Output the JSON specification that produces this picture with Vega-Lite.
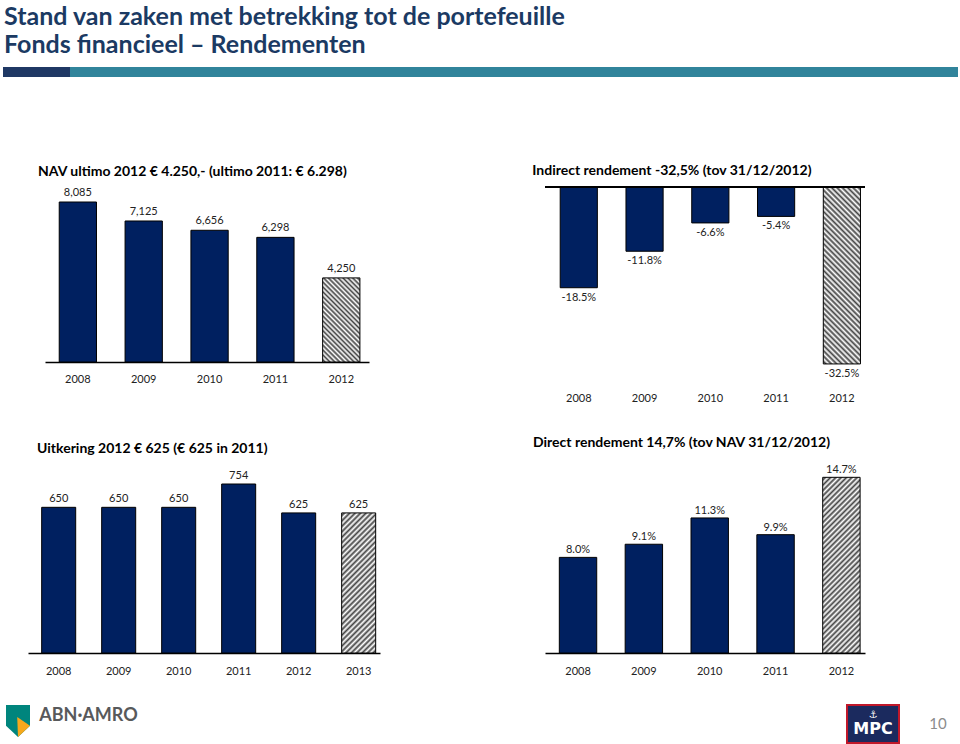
{
"$schema": "https://vega.github.io/schema/vega-lite/v6.json",
"background": "white",
"padding": {"left": 3, "top": 5, "right": 0, "bottom": 0},
"title": {"text": ["Stand van zaken met betrekking tot de portefeuille", "Fonds financieel – Rendementen"], "font": "Lato", "fontSize": 25, "fontWeight": "bold", "color": "#1b3a63", "lineHeight": 27.5, "offset": 9.5, "dx": 1, "anchor": "start"},
"datasets": {
  "leeg": [],
  "nav": [{"jaar": "2008", "waarde": 8085, "soort": "realisatie"}, {"jaar": "2009", "waarde": 7125, "soort": "realisatie"}, {"jaar": "2010", "waarde": 6656, "soort": "realisatie"}, {"jaar": "2011", "waarde": 6298, "soort": "realisatie"}, {"jaar": "2012", "waarde": 4250, "soort": "prognose"}],
  "indirect": [{"jaar": "2008", "waarde": -0.185, "soort": "realisatie"}, {"jaar": "2009", "waarde": -0.118, "soort": "realisatie"}, {"jaar": "2010", "waarde": -0.066, "soort": "realisatie"}, {"jaar": "2011", "waarde": -0.054, "soort": "realisatie"}, {"jaar": "2012", "waarde": -0.325, "soort": "prognose"}],
  "uitkering": [{"jaar": "2008", "waarde": 650, "soort": "realisatie"}, {"jaar": "2009", "waarde": 650, "soort": "realisatie"}, {"jaar": "2010", "waarde": 650, "soort": "realisatie"}, {"jaar": "2011", "waarde": 754, "soort": "realisatie"}, {"jaar": "2012", "waarde": 625, "soort": "realisatie"}, {"jaar": "2013", "waarde": 625, "soort": "prognose"}],
  "direct": [{"jaar": "2008", "waarde": 0.080, "soort": "realisatie"}, {"jaar": "2009", "waarde": 0.091, "soort": "realisatie"}, {"jaar": "2010", "waarde": 0.113, "soort": "realisatie"}, {"jaar": "2011", "waarde": 0.099, "soort": "realisatie"}, {"jaar": "2012", "waarde": 0.147, "soort": "prognose"}],
  "abn": [{"naam": "ABN·AMRO"}],
  "mpc": [{"naam": "MPC", "symbool": "⚓"}],
  "pagina": [{"nummer": "10"}]
},
"bounds": "full",
"spacing": 0,
"vconcat": [
  {"bounds": "flush", "spacing": 0, "hconcat": [
    {"width": 67, "height": 10, "data": {"name": "leeg"}, "mark": "point", "view": {"fill": "#1f3864"}},
    {"width": 888, "height": 10, "data": {"name": "leeg"}, "mark": "point", "view": {"fill": "#31849b"}}
  ]},
  {"width": 1, "height": 87, "data": {"name": "leeg"}, "mark": "point"},
  {"bounds": "flush", "spacing": 0, "hconcat": [
    {"width": 42, "height": 1, "data": {"name": "leeg"}, "mark": "point"},
    {
      "width": 324, "height": 175,
      "title": {"text": "NAV ultimo 2012 € 4.250,- (ultimo 2011: € 6.298)", "dx": -7, "offset": 8},
      "data": {"name": "nav"},
      "encoding": {
        "x": {"field": "jaar", "type": "ordinal", "title": null, "scale": {"paddingInner": 0.434, "paddingOuter": 0.177, "align": 0.61}, "axis": {"labelPadding": 11}},
        "y": {"field": "waarde", "type": "quantitative", "scale": {"domain": [0, 8843], "nice": false}, "axis": null}
      },
      "layer": [
        {"transform": [{"filter": "datum.soort === 'realisatie'"}], "mark": {"type": "bar", "fill": "#002060", "stroke": "#000", "strokeWidth": 1}},
        {"transform": [{"filter": "datum.soort === 'prognose'"}], "mark": {"type": "bar", "stroke": "#000", "strokeWidth": 1, "fill": {"gradient": "linear", "x1": 0, "y1": 1, "x2": 0.535, "y2": -0.206, "stops": [{"offset":0,"color":"#fff"},{"offset":0.02,"color":"#444"},{"offset":0.04,"color":"#fff"},{"offset":0.06,"color":"#444"},{"offset":0.08,"color":"#fff"},{"offset":0.1,"color":"#444"},{"offset":0.12,"color":"#fff"},{"offset":0.14,"color":"#444"},{"offset":0.16,"color":"#fff"},{"offset":0.18,"color":"#444"},{"offset":0.2,"color":"#fff"},{"offset":0.22,"color":"#444"},{"offset":0.24,"color":"#fff"},{"offset":0.26,"color":"#444"},{"offset":0.28,"color":"#fff"},{"offset":0.3,"color":"#444"},{"offset":0.32,"color":"#fff"},{"offset":0.34,"color":"#444"},{"offset":0.36,"color":"#fff"},{"offset":0.38,"color":"#444"},{"offset":0.4,"color":"#fff"},{"offset":0.42,"color":"#444"},{"offset":0.44,"color":"#fff"},{"offset":0.46,"color":"#444"},{"offset":0.48,"color":"#fff"},{"offset":0.5,"color":"#444"},{"offset":0.52,"color":"#fff"},{"offset":0.54,"color":"#444"},{"offset":0.56,"color":"#fff"},{"offset":0.58,"color":"#444"},{"offset":0.6,"color":"#fff"},{"offset":0.62,"color":"#444"},{"offset":0.64,"color":"#fff"},{"offset":0.66,"color":"#444"},{"offset":0.68,"color":"#fff"},{"offset":0.7,"color":"#444"},{"offset":0.72,"color":"#fff"},{"offset":0.74,"color":"#444"},{"offset":0.76,"color":"#fff"},{"offset":0.78,"color":"#444"},{"offset":0.8,"color":"#fff"},{"offset":0.82,"color":"#444"},{"offset":0.84,"color":"#fff"},{"offset":0.86,"color":"#444"},{"offset":0.88,"color":"#fff"},{"offset":0.9,"color":"#444"},{"offset":0.92,"color":"#fff"},{"offset":0.94,"color":"#444"},{"offset":0.96,"color":"#fff"},{"offset":0.98,"color":"#444"},{"offset":1,"color":"#fff"}]}}},
        {"mark": {"type": "text", "baseline": "bottom", "dy": -4}, "encoding": {"text": {"field": "waarde", "type": "quantitative", "format": ",d"}}}
      ]
    },
    {"width": 176, "height": 1, "data": {"name": "leeg"}, "mark": "point"},
    {
      "width": 320, "height": 196,
      "title": {"text": "Indirect rendement -32,5% (tov 31/12/2012)", "dx": -12, "offset": 8},
      "data": {"name": "indirect"},
      "layer": [
        {"transform": [{"filter": "datum.soort === 'realisatie'"}], "mark": {"type": "bar", "fill": "#002060", "stroke": "#000", "strokeWidth": 1},
         "encoding": {
           "x": {"field": "jaar", "type": "ordinal", "title": null, "scale": {"paddingInner": 0.435, "paddingOuter": 0.15, "align": 0.77}, "axis": {"domain": false, "labelPadding": 9}},
           "y": {"field": "waarde", "type": "quantitative", "scale": {"domain": [-0.36, 0], "nice": false}, "axis": null}
         }},
        {"transform": [{"filter": "datum.soort === 'prognose'"}], "mark": {"type": "bar", "stroke": "#000", "strokeWidth": 1, "fill": {"gradient": "linear", "x1": 0, "y1": 1, "x2": 0.2437, "y2": -0.159, "stops": [{"offset":0,"color":"#fff"},{"offset":0.0125,"color":"#444"},{"offset":0.025,"color":"#fff"},{"offset":0.0375,"color":"#444"},{"offset":0.05,"color":"#fff"},{"offset":0.0625,"color":"#444"},{"offset":0.075,"color":"#fff"},{"offset":0.0875,"color":"#444"},{"offset":0.1,"color":"#fff"},{"offset":0.1125,"color":"#444"},{"offset":0.125,"color":"#fff"},{"offset":0.1375,"color":"#444"},{"offset":0.15,"color":"#fff"},{"offset":0.1625,"color":"#444"},{"offset":0.175,"color":"#fff"},{"offset":0.1875,"color":"#444"},{"offset":0.2,"color":"#fff"},{"offset":0.2125,"color":"#444"},{"offset":0.225,"color":"#fff"},{"offset":0.2375,"color":"#444"},{"offset":0.25,"color":"#fff"},{"offset":0.2625,"color":"#444"},{"offset":0.275,"color":"#fff"},{"offset":0.2875,"color":"#444"},{"offset":0.3,"color":"#fff"},{"offset":0.3125,"color":"#444"},{"offset":0.325,"color":"#fff"},{"offset":0.3375,"color":"#444"},{"offset":0.35,"color":"#fff"},{"offset":0.3625,"color":"#444"},{"offset":0.375,"color":"#fff"},{"offset":0.3875,"color":"#444"},{"offset":0.4,"color":"#fff"},{"offset":0.4125,"color":"#444"},{"offset":0.425,"color":"#fff"},{"offset":0.4375,"color":"#444"},{"offset":0.45,"color":"#fff"},{"offset":0.4625,"color":"#444"},{"offset":0.475,"color":"#fff"},{"offset":0.4875,"color":"#444"},{"offset":0.5,"color":"#fff"},{"offset":0.5125,"color":"#444"},{"offset":0.525,"color":"#fff"},{"offset":0.5375,"color":"#444"},{"offset":0.55,"color":"#fff"},{"offset":0.5625,"color":"#444"},{"offset":0.575,"color":"#fff"},{"offset":0.5875,"color":"#444"},{"offset":0.6,"color":"#fff"},{"offset":0.6125,"color":"#444"},{"offset":0.625,"color":"#fff"},{"offset":0.6375,"color":"#444"},{"offset":0.65,"color":"#fff"},{"offset":0.6625,"color":"#444"},{"offset":0.675,"color":"#fff"},{"offset":0.6875,"color":"#444"},{"offset":0.7,"color":"#fff"},{"offset":0.7125,"color":"#444"},{"offset":0.725,"color":"#fff"},{"offset":0.7375,"color":"#444"},{"offset":0.75,"color":"#fff"},{"offset":0.7625,"color":"#444"},{"offset":0.775,"color":"#fff"},{"offset":0.7875,"color":"#444"},{"offset":0.8,"color":"#fff"},{"offset":0.8125,"color":"#444"},{"offset":0.825,"color":"#fff"},{"offset":0.8375,"color":"#444"},{"offset":0.85,"color":"#fff"},{"offset":0.8625,"color":"#444"},{"offset":0.875,"color":"#fff"},{"offset":0.8875,"color":"#444"},{"offset":0.9,"color":"#fff"},{"offset":0.9125,"color":"#444"},{"offset":0.925,"color":"#fff"},{"offset":0.9375,"color":"#444"},{"offset":0.95,"color":"#fff"},{"offset":0.9625,"color":"#444"},{"offset":0.975,"color":"#fff"},{"offset":0.9875,"color":"#444"},{"offset":1,"color":"#fff"}]}},
         "encoding": {
           "x": {"field": "jaar", "type": "ordinal", "title": null},
           "y": {"field": "waarde", "type": "quantitative"}
         }},
        {"mark": {"type": "text", "baseline": "top", "dy": 4},
         "encoding": {
           "x": {"field": "jaar", "type": "ordinal", "title": null},
           "y": {"field": "waarde", "type": "quantitative"},
           "text": {"field": "waarde", "type": "quantitative", "format": ".1%"}
         }},
        {"mark": {"type": "rule", "stroke": "#000", "strokeWidth": 1.5}, "encoding": {"y": {"datum": 0}}}
      ]
    }
  ]},
  {"width": 1, "height": 33, "data": {"name": "leeg"}, "mark": "point"},
  {"bounds": "flush", "spacing": 0, "hconcat": [
    {"width": 25, "height": 1, "data": {"name": "leeg"}, "mark": "point"},
    {
      "width": 352, "height": 196,
      "title": {"text": "Uitkering 2012 € 625 (€ 625 in 2011)", "dx": 9, "offset": 1},
      "data": {"name": "uitkering"},
      "encoding": {
        "x": {"field": "jaar", "type": "ordinal", "title": null, "scale": {"paddingInner": 0.433, "paddingOuter": 0.15, "align": 0.76}, "axis": {"labelPadding": 12}},
        "y": {"field": "waarde", "type": "quantitative", "scale": {"domain": [0, 874.5], "nice": false}, "axis": null}
      },
      "layer": [
        {"transform": [{"filter": "datum.soort === 'realisatie'"}], "mark": {"type": "bar", "fill": "#002060", "stroke": "#000", "strokeWidth": 1}},
        {"transform": [{"filter": "datum.soort === 'prognose'"}], "mark": {"type": "bar", "stroke": "#000", "strokeWidth": 1, "fill": {"gradient": "linear", "x1": 0, "y1": 0, "x2": 0.2849, "y2": 1.174, "stops": [{"offset":0,"color":"#fff"},{"offset":0.015625,"color":"#444"},{"offset":0.03125,"color":"#fff"},{"offset":0.046875,"color":"#444"},{"offset":0.0625,"color":"#fff"},{"offset":0.078125,"color":"#444"},{"offset":0.09375,"color":"#fff"},{"offset":0.109375,"color":"#444"},{"offset":0.125,"color":"#fff"},{"offset":0.140625,"color":"#444"},{"offset":0.15625,"color":"#fff"},{"offset":0.171875,"color":"#444"},{"offset":0.1875,"color":"#fff"},{"offset":0.203125,"color":"#444"},{"offset":0.21875,"color":"#fff"},{"offset":0.234375,"color":"#444"},{"offset":0.25,"color":"#fff"},{"offset":0.265625,"color":"#444"},{"offset":0.28125,"color":"#fff"},{"offset":0.296875,"color":"#444"},{"offset":0.3125,"color":"#fff"},{"offset":0.328125,"color":"#444"},{"offset":0.34375,"color":"#fff"},{"offset":0.359375,"color":"#444"},{"offset":0.375,"color":"#fff"},{"offset":0.390625,"color":"#444"},{"offset":0.40625,"color":"#fff"},{"offset":0.421875,"color":"#444"},{"offset":0.4375,"color":"#fff"},{"offset":0.453125,"color":"#444"},{"offset":0.46875,"color":"#fff"},{"offset":0.484375,"color":"#444"},{"offset":0.5,"color":"#fff"},{"offset":0.515625,"color":"#444"},{"offset":0.53125,"color":"#fff"},{"offset":0.546875,"color":"#444"},{"offset":0.5625,"color":"#fff"},{"offset":0.578125,"color":"#444"},{"offset":0.59375,"color":"#fff"},{"offset":0.609375,"color":"#444"},{"offset":0.625,"color":"#fff"},{"offset":0.640625,"color":"#444"},{"offset":0.65625,"color":"#fff"},{"offset":0.671875,"color":"#444"},{"offset":0.6875,"color":"#fff"},{"offset":0.703125,"color":"#444"},{"offset":0.71875,"color":"#fff"},{"offset":0.734375,"color":"#444"},{"offset":0.75,"color":"#fff"},{"offset":0.765625,"color":"#444"},{"offset":0.78125,"color":"#fff"},{"offset":0.796875,"color":"#444"},{"offset":0.8125,"color":"#fff"},{"offset":0.828125,"color":"#444"},{"offset":0.84375,"color":"#fff"},{"offset":0.859375,"color":"#444"},{"offset":0.875,"color":"#fff"},{"offset":0.890625,"color":"#444"},{"offset":0.90625,"color":"#fff"},{"offset":0.921875,"color":"#444"},{"offset":0.9375,"color":"#fff"},{"offset":0.953125,"color":"#444"},{"offset":0.96875,"color":"#fff"},{"offset":0.984375,"color":"#444"},{"offset":1,"color":"#fff"}]}}},
        {"mark": {"type": "text", "baseline": "bottom", "dy": -3}, "encoding": {"text": {"field": "waarde", "type": "quantitative", "format": "d"}}}
      ]
    },
    {"width": 165, "height": 1, "data": {"name": "leeg"}, "mark": "point"},
    {
      "width": 320, "height": 196,
      "title": {"text": "Direct rendement 14,7% (tov NAV 31/12/2012)", "dx": -12, "offset": 7},
      "data": {"name": "direct"},
      "encoding": {
        "x": {"field": "jaar", "type": "ordinal", "title": null, "scale": {"paddingInner": 0.432, "paddingOuter": 0.146, "align": 0.745}, "axis": {"labelPadding": 12}},
        "y": {"field": "waarde", "type": "quantitative", "scale": {"domain": [0, 0.164], "nice": false}, "axis": null}
      },
      "layer": [
        {"transform": [{"filter": "datum.soort === 'realisatie'"}], "mark": {"type": "bar", "fill": "#002060", "stroke": "#000", "strokeWidth": 1}},
        {"transform": [{"filter": "datum.soort === 'prognose'"}], "mark": {"type": "bar", "stroke": "#000", "strokeWidth": 1, "fill": {"gradient": "linear", "x1": 0, "y1": 0, "x2": 0.247, "y2": 1.16, "stops": [{"offset":0,"color":"#fff"},{"offset":0.0125,"color":"#444"},{"offset":0.025,"color":"#fff"},{"offset":0.0375,"color":"#444"},{"offset":0.05,"color":"#fff"},{"offset":0.0625,"color":"#444"},{"offset":0.075,"color":"#fff"},{"offset":0.0875,"color":"#444"},{"offset":0.1,"color":"#fff"},{"offset":0.1125,"color":"#444"},{"offset":0.125,"color":"#fff"},{"offset":0.1375,"color":"#444"},{"offset":0.15,"color":"#fff"},{"offset":0.1625,"color":"#444"},{"offset":0.175,"color":"#fff"},{"offset":0.1875,"color":"#444"},{"offset":0.2,"color":"#fff"},{"offset":0.2125,"color":"#444"},{"offset":0.225,"color":"#fff"},{"offset":0.2375,"color":"#444"},{"offset":0.25,"color":"#fff"},{"offset":0.2625,"color":"#444"},{"offset":0.275,"color":"#fff"},{"offset":0.2875,"color":"#444"},{"offset":0.3,"color":"#fff"},{"offset":0.3125,"color":"#444"},{"offset":0.325,"color":"#fff"},{"offset":0.3375,"color":"#444"},{"offset":0.35,"color":"#fff"},{"offset":0.3625,"color":"#444"},{"offset":0.375,"color":"#fff"},{"offset":0.3875,"color":"#444"},{"offset":0.4,"color":"#fff"},{"offset":0.4125,"color":"#444"},{"offset":0.425,"color":"#fff"},{"offset":0.4375,"color":"#444"},{"offset":0.45,"color":"#fff"},{"offset":0.4625,"color":"#444"},{"offset":0.475,"color":"#fff"},{"offset":0.4875,"color":"#444"},{"offset":0.5,"color":"#fff"},{"offset":0.5125,"color":"#444"},{"offset":0.525,"color":"#fff"},{"offset":0.5375,"color":"#444"},{"offset":0.55,"color":"#fff"},{"offset":0.5625,"color":"#444"},{"offset":0.575,"color":"#fff"},{"offset":0.5875,"color":"#444"},{"offset":0.6,"color":"#fff"},{"offset":0.6125,"color":"#444"},{"offset":0.625,"color":"#fff"},{"offset":0.6375,"color":"#444"},{"offset":0.65,"color":"#fff"},{"offset":0.6625,"color":"#444"},{"offset":0.675,"color":"#fff"},{"offset":0.6875,"color":"#444"},{"offset":0.7,"color":"#fff"},{"offset":0.7125,"color":"#444"},{"offset":0.725,"color":"#fff"},{"offset":0.7375,"color":"#444"},{"offset":0.75,"color":"#fff"},{"offset":0.7625,"color":"#444"},{"offset":0.775,"color":"#fff"},{"offset":0.7875,"color":"#444"},{"offset":0.8,"color":"#fff"},{"offset":0.8125,"color":"#444"},{"offset":0.825,"color":"#fff"},{"offset":0.8375,"color":"#444"},{"offset":0.85,"color":"#fff"},{"offset":0.8625,"color":"#444"},{"offset":0.875,"color":"#fff"},{"offset":0.8875,"color":"#444"},{"offset":0.9,"color":"#fff"},{"offset":0.9125,"color":"#444"},{"offset":0.925,"color":"#fff"},{"offset":0.9375,"color":"#444"},{"offset":0.95,"color":"#fff"},{"offset":0.9625,"color":"#444"},{"offset":0.975,"color":"#fff"},{"offset":0.9875,"color":"#444"},{"offset":1,"color":"#fff"}]}}},
        {"mark": {"type": "text", "baseline": "bottom", "dy": -2}, "encoding": {"text": {"field": "waarde", "type": "quantitative", "format": ".1%"}}}
      ]
    }
  ]},
  {"width": 1, "height": 28, "data": {"name": "leeg"}, "mark": "point"},
  {"bounds": "flush", "spacing": 0, "hconcat": [
    {
      "width": 30, "height": 32, "data": {"name": "abn"},
      "layer": [
        {"mark": {"type": "point", "shape": "M -0.75 -1 L 0.75 -1 L 0.75 0.3 L 0 1 L -0.75 0.3 Z", "size": 1024, "filled": true, "fill": "#00857d", "strokeWidth": 0, "opacity": 1}, "encoding": {}},
        {"mark": {"type": "point", "shape": "M -0.05 -0.25 L 0.75 0.3 L 0 1 Z", "size": 1024, "filled": true, "fill": "#f6a81c", "strokeWidth": 0, "opacity": 1}, "encoding": {}}
      ]
    },
    {"width": 111, "height": 32, "data": {"name": "abn"}, "mark": {"type": "text", "fontSize": 18, "fontWeight": "bold", "fill": "#58595b", "dy": -5}, "encoding": {"text": {"field": "naam"}}},
    {"width": 703, "height": 1, "data": {"name": "leeg"}, "mark": "point"},
    {
      "width": 52, "height": 38, "data": {"name": "mpc"},
      "view": {"fill": "#1b2a5e", "stroke": "#c0182a", "strokeWidth": 2},
      "layer": [
        {"mark": {"type": "text", "font": "DejaVu Sans", "fontSize": 16, "fontWeight": "bold", "fill": "#fff", "dy": 5}, "encoding": {"text": {"field": "naam"}}},
        {"mark": {"type": "text", "font": "DejaVu Sans", "fontSize": 10, "fill": "#fff", "dy": -9}, "encoding": {"text": {"field": "symbool"}}}
      ]
    },
    {"width": 58, "height": 38, "data": {"name": "pagina"}, "mark": {"type": "text", "fontSize": 15, "fill": "#8c8c8c", "dx": 10}, "encoding": {"text": {"field": "nummer"}}}
  ]}
],
"config": {
  "view": {"stroke": null},
  "font": "Lato",
  "axis": {"ticks": false, "grid": false, "labelFont": "Lato", "labelFontSize": 11, "labelColor": "#222", "domainColor": "#000", "domainWidth": 1.5, "labelAngle": 0},
  "title": {"font": "Lato", "fontSize": 14, "fontWeight": "bold", "color": "#000", "anchor": "start"},
  "text": {"font": "Lato", "fontSize": 11, "fill": "#222"},
  "locale": {"number": {"decimal": ".", "thousands": ",", "grouping": [3], "currency": ["$", ""], "minus": "-"}}
}
}
